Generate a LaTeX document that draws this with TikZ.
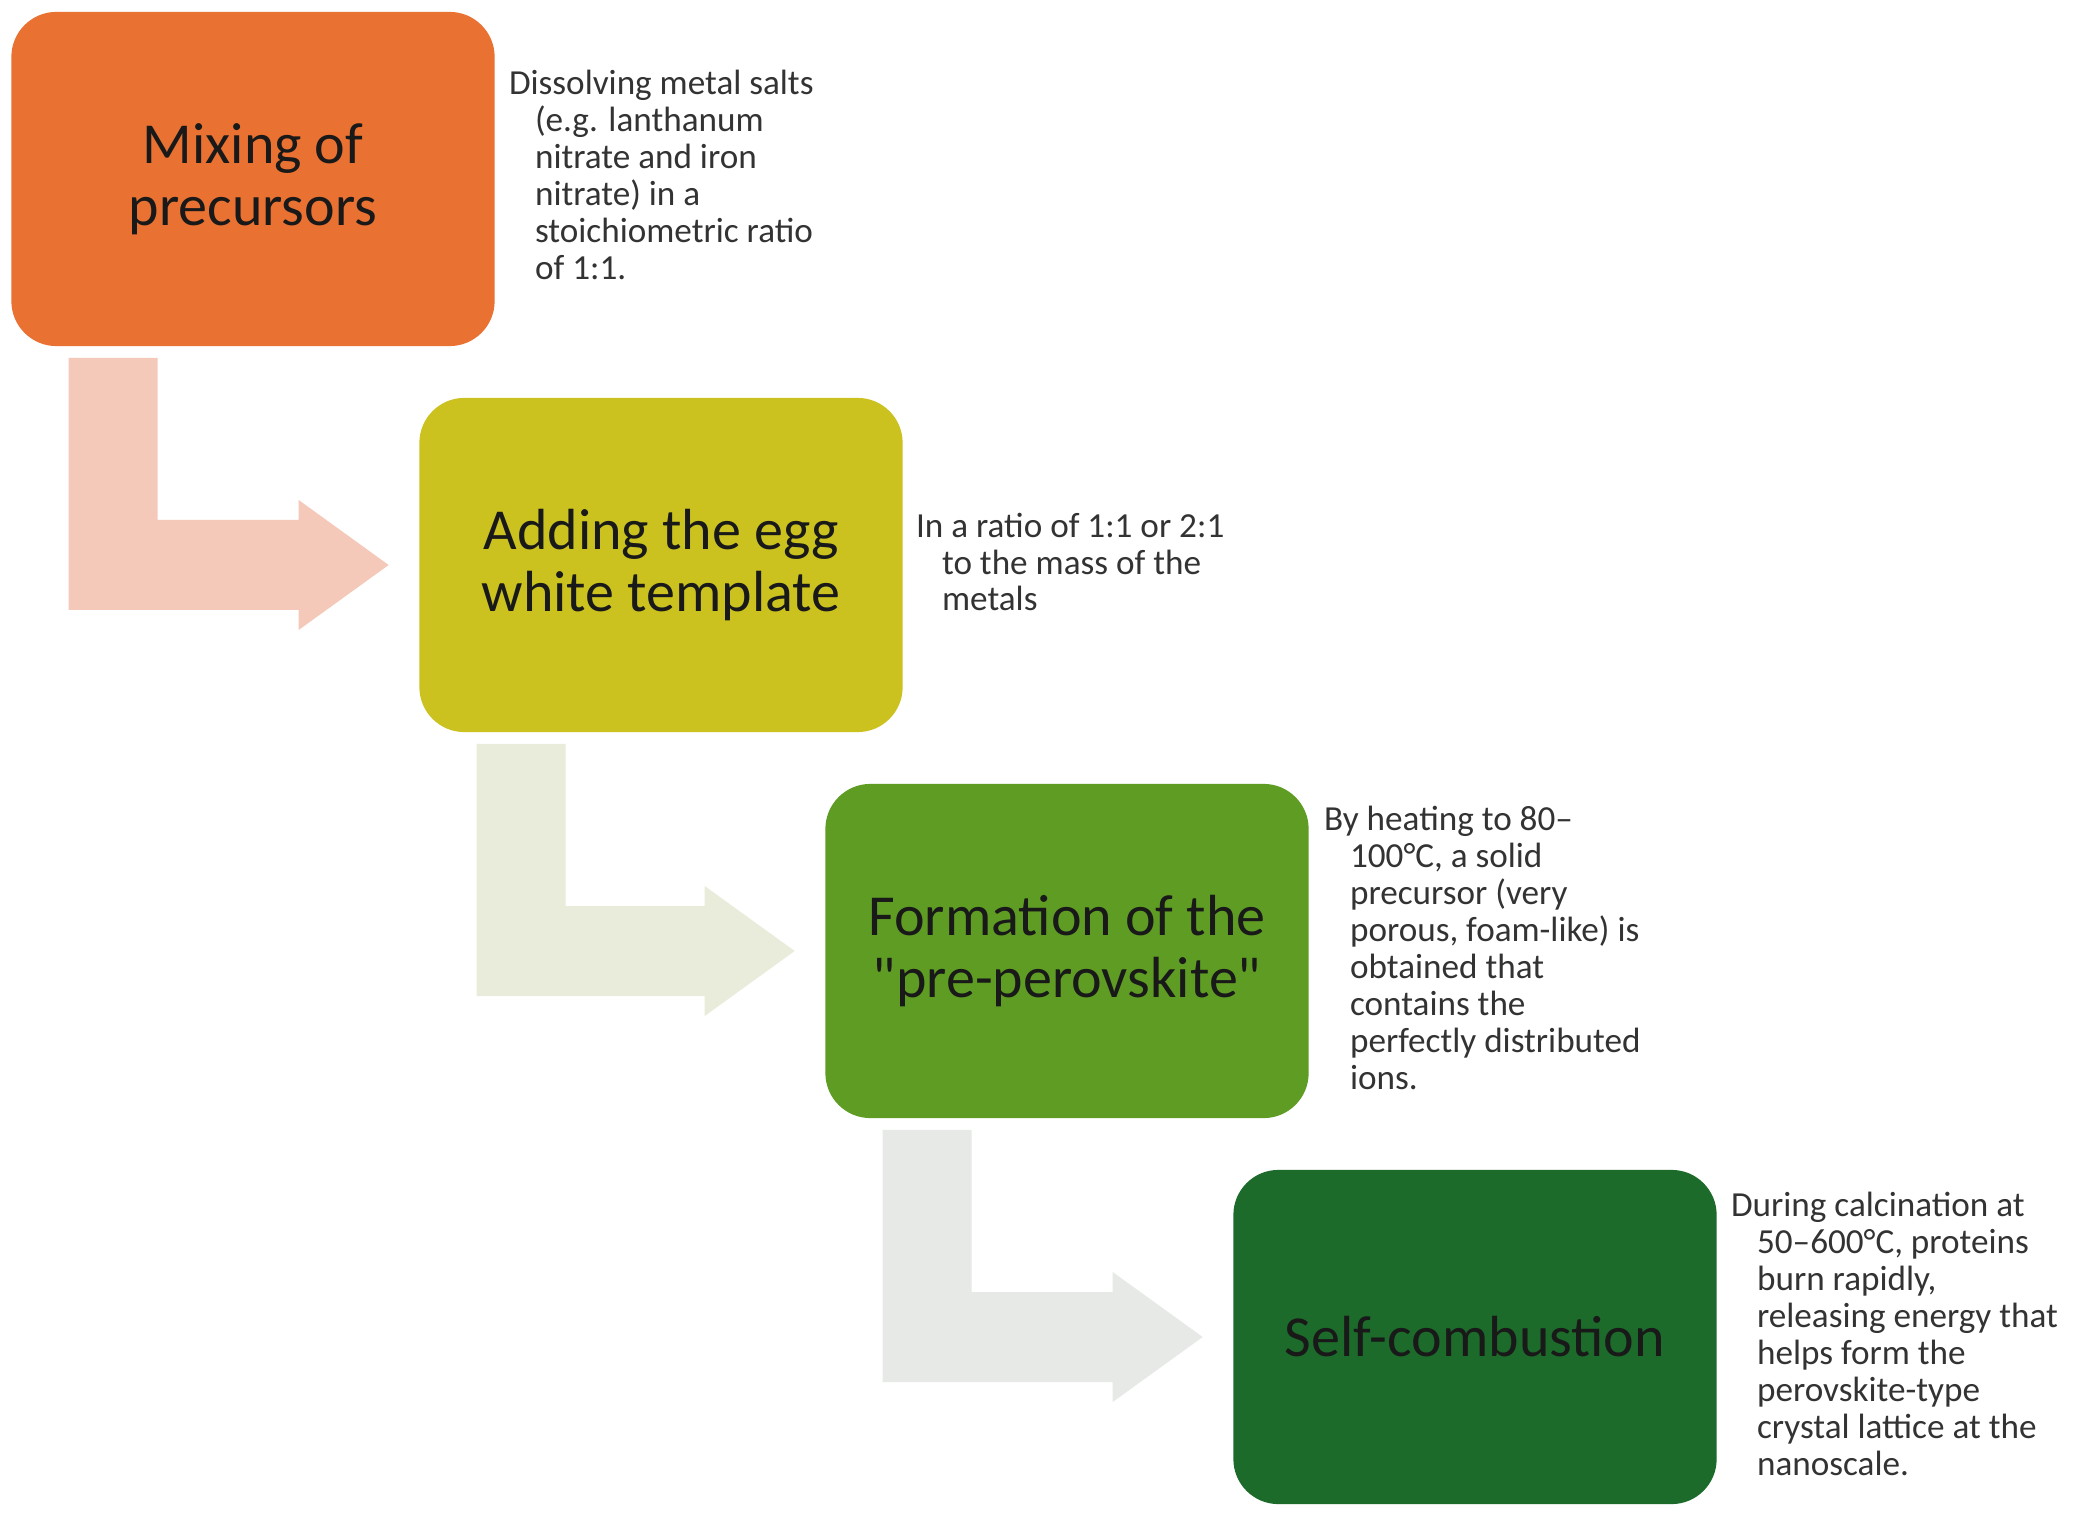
\documentclass[tikz,border=0pt]{standalone}
\usepackage{fontspec}
\setmainfont{Carlito}
\usetikzlibrary{calc}
\definecolor{mixorange}{HTML}{E97132}
\definecolor{eggyellow}{HTML}{CBC21F}
\definecolor{formgreen}{HTML}{5F9C23}
\definecolor{burngreen}{HTML}{1C6B2B}
\definecolor{arrowpink}{HTML}{F5C9BA}
\definecolor{arrowolive}{HTML}{E9ECDA}
\definecolor{arrowgrey}{HTML}{E6E9E6}
\newcommand{\hind}{\hspace*{0.26cm}}
% bent block arrow from one stage to the next
\newcommand{\flowarrow}[3]{%
  \path ($(#1.south west)+(58,11)$) coordinate (a1)
        ($(#2.west)+(-30,0)$) coordinate (tip);
  \fill[#3] (a1) |- ($(tip)+(-90,45)$) -- ++(0,20) -- (tip)
        -- ($(tip)+(-90,-65)$) -- ++(0,20) -| ($(a1)+(89,0)$) -- cycle;}
\begin{document}
\begin{tikzpicture}[x=0.01cm, y=-0.01cm,
    stage/.style={rounded corners=0.45cm, minimum width=4.83cm, minimum height=3.34cm,
      align=center, text=black!90, font=\fontsize{16.5}{17.6}\selectfont},
    note/.style={anchor=west, align=left, inner sep=0pt, text=black!80,
      font=\fontsize{10}{10.5}\selectfont}]
  \fill[white] (0,0) rectangle (2076,1519);
  \node[stage, fill=mixorange] (mix) at (253,179) {Mixing of\\precursors};
  \node[stage, fill=eggyellow] (egg) at (661,565) {Adding the egg\\white template};
  \node[stage, fill=formgreen] (form) at (1067,951) {Formation of the\\\textquotedbl pre-perovskite\textquotedbl};
  \node[stage, fill=burngreen] (burn) at (1475,1337) {Self-combustion};
  \node[note] (mixnote) at ($(mix.east)+(13,-4)$) {Dissolving metal salts\\
    \hind(e.g. lanthanum\\ \hind nitrate and iron\\ \hind nitrate) in a\\
    \hind stoichiometric ratio\\ \hind of 1:1.};
  \node[note] (eggnote) at ($(egg.east)+(12,-3)$) {In a ratio of 1:1 or 2:1\\
    \hind to the mass of the\\ \hind metals};
  \node[note] (formnote) at ($(form.east)+(14,-3)$) {By heating to 80–\\
    \hind 100°C, a solid\\ \hind precursor (very\\ \hind porous, foam-like) is\\
    \hind obtained that\\ \hind contains the\\ \hind perfectly distributed\\ \hind ions.};
  \node[note] (burnnote) at ($(burn.east)+(13,-3)$) {During calcination at\\
    \hind 50–600°C, proteins\\ \hind burn rapidly,\\ \hind releasing energy that\\
    \hind helps form the\\ \hind perovskite-type\\ \hind crystal lattice at the\\ \hind nanoscale.};
  \flowarrow{mix}{egg}{arrowpink}
  \flowarrow{egg}{form}{arrowolive}
  \flowarrow{form}{burn}{arrowgrey}
\end{tikzpicture}
\end{document}
